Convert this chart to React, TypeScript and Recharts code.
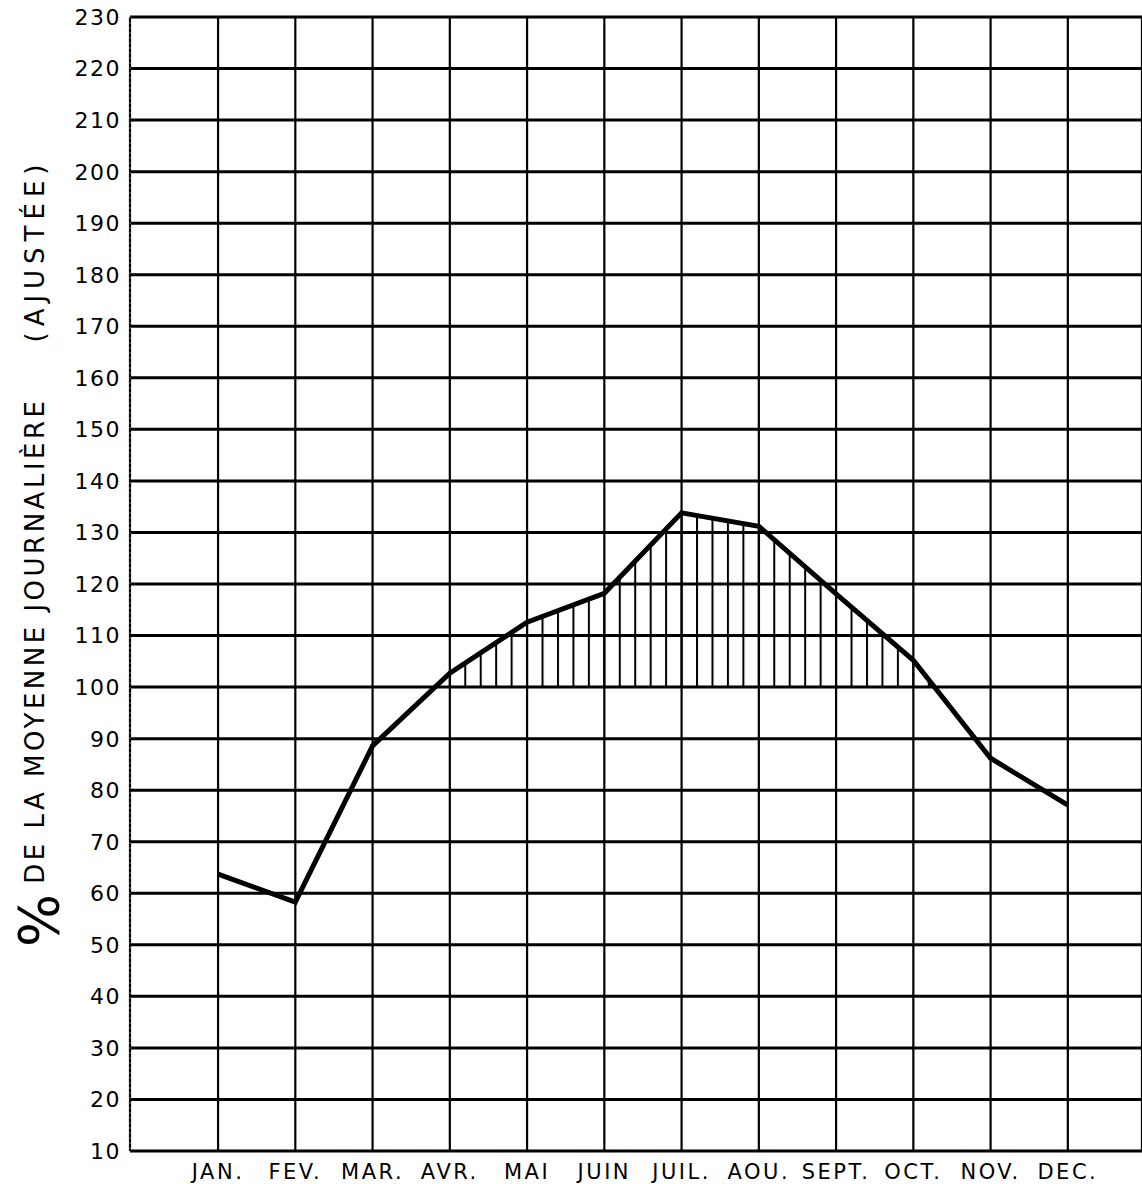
import React from "react";
import { ComposedChart, Area, Line, XAxis, YAxis, CartesianGrid, ReferenceArea } from "recharts";

// % de la moyenne journalière (ajustée), par mois
const months = ["JAN.", "FEV.", "MAR.", "AVR.", "MAI", "JUIN", "JUIL.", "AOU.", "SEPT.", "OCT.", "NOV.", "DEC."];
const percentOfMean = [63.7, 58.3, 88.6, 102.7, 112.6, 118.2, 133.8, 131.2, 118.1, 105.2, 86.2, 77.1];
const monthTicks = [1, 2, 3, 4, 5, 6, 7, 8, 9, 10, 11, 12];
const yTicks = [10, 20, 30, 40, 50, 60, 70, 80, 90, 100, 110, 120, 130, 140, 150, 160, 170, 180, 190, 200, 210, 220, 230];
const baseline = 100;

const data = months.map((label, i) => ({ m: i + 1, label, value: percentOfMean[i] }));

const FONT = "'DejaVu Sans', sans-serif";

// builds the hatch pattern + clip (area above the 100 line) from the scale-computed rect
function HatchDefs(props: any) {
  const { x, y, width, height } = props;
  const step = width / 55; // 5 hatch lines per month
  return (
    <defs>
      <pattern id="hatch" patternUnits="userSpaceOnUse" x={x - 1} y={0} width={step} height={10}>
        <rect x={0} y={0} width={2} height={10} fill="#000" />
      </pattern>
      <clipPath id="above100">
        <rect x={0} y={0} width={3000} height={y + height} />
      </clipPath>
    </defs>
  );
}

function MonthTick(props: any) {
  const { x, y, payload } = props;
  return (
    <text x={x} y={y} dy="0.71em" textAnchor="middle" fill="#000" fontFamily={FONT} fontSize={21} letterSpacing={2.5}>
      {months[payload.value - 1]}
    </text>
  );
}

function ValueTick(props: any) {
  const { x, y, payload } = props;
  return (
    <text x={x} y={y} dy="0.36em" textAnchor="end" fill="#000" fontFamily={FONT} fontSize={22} letterSpacing={1.5}>
      {payload.value}
    </text>
  );
}

function AxisTitle() {
  return (
    <text x={44} y={947} transform="rotate(-90, 44, 947)" fill="#000" fontFamily={FONT} textAnchor="start">
      <tspan fontSize={56} dy={14}>%</tspan>
      <tspan fontSize={26} dy={-14} dx={10} letterSpacing={3.5}>DE LA MOYENNE JOURNALIÈRE</tspan>
      <tspan fontSize={26} dx={55} letterSpacing={6}>(AJUSTÉE)</tspan>
    </text>
  );
}

export default function App() {
  return (
    <div style={{ width: 1142, height: 1184, background: "#fff" }}>
      <style>{`
        body { margin: 0; }
        .hatch-area .recharts-area-area { clip-path: url(#above100); }
      `}</style>
      <ComposedChart width={1142} height={1184} data={data} margin={{ top: 17, right: 0, bottom: 0, left: 0 }}>
        <CartesianGrid vertical={false} stroke="#000" strokeWidth={3} />
        <CartesianGrid horizontal={false} stroke="#000" strokeWidth={2.2} />
        <XAxis
          dataKey="m"
          type="number"
          domain={[-0.14, 12.96]}
          allowDataOverflow
          ticks={monthTicks}
          axisLine={false}
          tickLine={false}
          tickMargin={7}
          height={33}
          tick={<MonthTick />}
        />
        <YAxis
          type="number"
          domain={[10, 230]}
          ticks={yTicks}
          interval={0}
          width={130}
          axisLine={{ stroke: "#444", strokeWidth: 1.5, strokeDasharray: "2 3" }}
          tickLine={false}
          tickMargin={3}
          tick={<ValueTick />}
          label={<AxisTitle />}
        />
        <ReferenceArea x1={1} x2={12} y1={baseline} y2={230} shape={HatchDefs} />
        <Area
          className="hatch-area"
          dataKey="value"
          type="linear"
          baseValue={baseline}
          fill="url(#hatch)"
          fillOpacity={1}
          stroke="none"
          isAnimationActive={false}
        />
        <Line dataKey="value" type="linear" stroke="#000" strokeWidth={5} dot={false} isAnimationActive={false} />
      </ComposedChart>
    </div>
  );
}
